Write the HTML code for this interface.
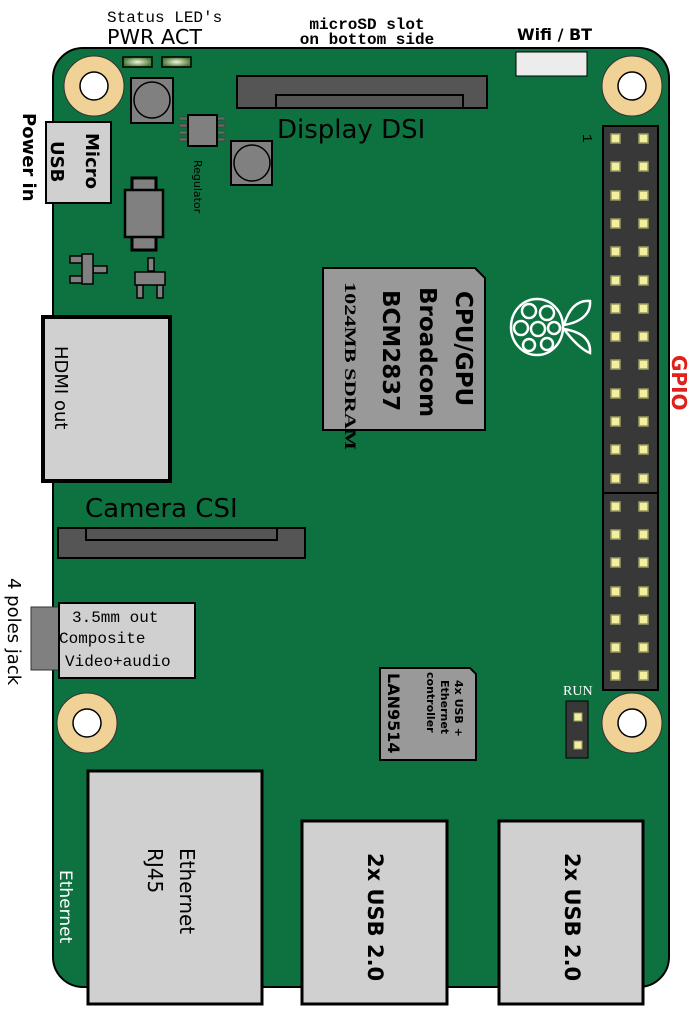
<!DOCTYPE html>
<html><head><meta charset="utf-8"><style>
html,body{margin:0;padding:0;background:#fff;}
svg{display:block;}
</style></head><body>
<svg width="697" height="1024" viewBox="0 0 697 1024" xmlns="http://www.w3.org/2000/svg" font-family="Liberation Sans, DejaVu Sans, sans-serif">
<rect x="53" y="48" width="616" height="939" rx="30" ry="30" fill="#0e7140" stroke="#000" stroke-width="2"/>

<text x="107" y="22" font-family="Liberation Mono, monospace" font-size="16">Status LED's</text>
<text x="107" y="44" font-family="DejaVu Sans, sans-serif" font-size="20" textLength="95" lengthAdjust="spacingAndGlyphs">PWR ACT</text>
<text x="367" y="29" text-anchor="middle" font-family="Liberation Mono, monospace" font-size="16" font-weight="bold">microSD slot</text>
<text x="367" y="44" text-anchor="middle" font-family="Liberation Mono, monospace" font-size="16" font-weight="bold">on bottom side</text>
<text x="517" y="40" font-size="16" font-weight="bold" font-family="DejaVu Sans, sans-serif">Wifi / BT</text>

<defs>
<radialGradient id="led" cx="0.5" cy="0.5" r="0.5"><stop offset="0" stop-color="#f4f6dc"/><stop offset="1" stop-color="#4a7a3a"/></radialGradient>
</defs>
<rect x="123" y="57" width="29" height="10" fill="url(#led)" stroke="#000" stroke-width="1.5"/>
<rect x="162" y="57" width="29" height="10" fill="url(#led)" stroke="#000" stroke-width="1.5"/>

<rect x="516" y="52" width="71" height="24" fill="#ececec" stroke="#000" stroke-width="1"/>

<g fill="#f0d296" stroke="#333" stroke-width="1">
<circle cx="94" cy="86" r="30"/><circle cx="632" cy="86" r="30"/>
<circle cx="87" cy="723" r="30"/><circle cx="632" cy="723" r="30"/>
</g>
<g fill="#fff" stroke="#000" stroke-width="1.5">
<circle cx="94" cy="86" r="14"/><circle cx="632" cy="86" r="14"/>
<circle cx="87" cy="723" r="14"/><circle cx="632" cy="723" r="14"/>
</g>

<rect x="131" y="78" width="42" height="45" fill="#808080" stroke="#000" stroke-width="2"/>
<circle cx="152" cy="100" r="18" fill="#808080" stroke="#000" stroke-width="1.5"/>
<rect x="231" y="141" width="41" height="44" fill="#808080" stroke="#000" stroke-width="2"/>
<circle cx="252" cy="163" r="18" fill="#808080" stroke="#000" stroke-width="1.5"/>

<g fill="#666" stroke="#333" stroke-width="0.5">
<rect x="179" y="117" width="9" height="3"/><rect x="179" y="124" width="9" height="3"/><rect x="179" y="131" width="9" height="3"/><rect x="179" y="138" width="9" height="3"/>
<rect x="216" y="117" width="9" height="3"/><rect x="216" y="124" width="9" height="3"/><rect x="216" y="131" width="9" height="3"/><rect x="216" y="138" width="9" height="3"/>
</g>
<rect x="188" y="115" width="29" height="31" fill="#808080" stroke="#000" stroke-width="2"/>
<text transform="translate(194,160) rotate(90)" font-size="11" font-family="DejaVu Sans, sans-serif">Regulator</text>

<rect x="132" y="178" width="24" height="72" fill="#808080" stroke="#000" stroke-width="3"/>
<rect x="125" y="190" width="38" height="47" fill="#808080" stroke="#000" stroke-width="2.5"/>

<g fill="#808080" stroke="#000" stroke-width="1.5">
<rect x="70" y="256" width="14" height="7"/><rect x="70" y="276" width="14" height="7"/><rect x="93" y="266" width="14" height="7"/>
<rect x="82" y="254" width="11" height="30"/>
<rect x="148" y="258" width="6" height="13"/>
<rect x="137" y="285" width="6" height="13"/><rect x="157" y="285" width="6" height="13"/>
<rect x="135" y="272" width="30" height="13"/>
</g>

<rect x="46" y="122" width="65" height="81" fill="#d0d0d0" stroke="#000" stroke-width="2"/>
<text transform="translate(86,133) rotate(90)" font-size="18" font-weight="bold" font-family="DejaVu Sans, sans-serif">Micro</text>
<text transform="translate(51,141) rotate(90)" font-size="18" font-weight="bold" font-family="DejaVu Sans, sans-serif">USB</text>
<text transform="translate(23,113) rotate(90)" font-size="18" font-weight="bold" font-family="DejaVu Sans, sans-serif">Power in</text>

<rect x="237" y="76" width="250" height="32" fill="#555" stroke="#000" stroke-width="2"/>
<rect x="276" y="95" width="187" height="13" fill="#555" stroke="#000" stroke-width="2"/>
<text x="277" y="138" font-size="26" font-family="DejaVu Sans, sans-serif">Display DSI</text>

<text transform="translate(583,134) rotate(90)" font-size="14" font-family="Liberation Mono, monospace">1</text>

<rect x="603" y="126" width="55" height="367" fill="#383838" stroke="#000" stroke-width="2"/>
<rect x="603" y="493" width="55" height="197" fill="#383838" stroke="#000" stroke-width="2"/>
<g fill="#f2f0a0" stroke="#9a9a60" stroke-width="1.5">
<rect x="611" y="134" width="9" height="9"/><rect x="639" y="134" width="9" height="9"/>
<rect x="611" y="162" width="9" height="9"/><rect x="639" y="162" width="9" height="9"/>
<rect x="611" y="191" width="9" height="9"/><rect x="639" y="191" width="9" height="9"/>
<rect x="611" y="219" width="9" height="9"/><rect x="639" y="219" width="9" height="9"/>
<rect x="611" y="247" width="9" height="9"/><rect x="639" y="247" width="9" height="9"/>
<rect x="611" y="276" width="9" height="9"/><rect x="639" y="276" width="9" height="9"/>
<rect x="611" y="304" width="9" height="9"/><rect x="639" y="304" width="9" height="9"/>
<rect x="611" y="332" width="9" height="9"/><rect x="639" y="332" width="9" height="9"/>
<rect x="611" y="360" width="9" height="9"/><rect x="639" y="360" width="9" height="9"/>
<rect x="611" y="389" width="9" height="9"/><rect x="639" y="389" width="9" height="9"/>
<rect x="611" y="417" width="9" height="9"/><rect x="639" y="417" width="9" height="9"/>
<rect x="611" y="445" width="9" height="9"/><rect x="639" y="445" width="9" height="9"/>
<rect x="611" y="474" width="9" height="9"/><rect x="639" y="474" width="9" height="9"/>
<rect x="611" y="502" width="9" height="9"/><rect x="639" y="502" width="9" height="9"/>
<rect x="611" y="530" width="9" height="9"/><rect x="639" y="530" width="9" height="9"/>
<rect x="611" y="558" width="9" height="9"/><rect x="639" y="558" width="9" height="9"/>
<rect x="611" y="587" width="9" height="9"/><rect x="639" y="587" width="9" height="9"/>
<rect x="611" y="615" width="9" height="9"/><rect x="639" y="615" width="9" height="9"/>
<rect x="611" y="643" width="9" height="9"/><rect x="639" y="643" width="9" height="9"/>
<rect x="611" y="671" width="9" height="9"/><rect x="639" y="671" width="9" height="9"/>
</g>
<text transform="translate(672,355) rotate(90)" font-size="20" font-weight="bold" fill="#e0201a" font-family="DejaVu Sans, sans-serif">GPIO</text>

<path d="M323 268 L475 268 L485 278 L485 430 L323 430 Z" fill="#999" stroke="#000" stroke-width="2"/>
<text transform="translate(456,291) rotate(90)" font-size="23" font-weight="bold" font-family="DejaVu Sans, sans-serif">CPU/GPU</text>
<text transform="translate(420,287) rotate(90)" font-size="23" font-weight="bold" font-family="DejaVu Sans, sans-serif">Broadcom</text>
<text transform="translate(383,290) rotate(90)" font-size="23" font-weight="bold" font-family="DejaVu Sans, sans-serif">BCM2837</text>
<text transform="translate(345,282) rotate(90)" font-size="16" font-weight="bold" font-family="Liberation Serif, DejaVu Serif, serif" textLength="168" lengthAdjust="spacingAndGlyphs">1024MB SDRAM</text>

<g fill="none" stroke="#fff" stroke-width="2.5">
<ellipse cx="537" cy="327" rx="26" ry="28"/>
<circle cx="529" cy="311" r="7"/><circle cx="547" cy="313" r="7"/>
<circle cx="521" cy="328" r="7"/><circle cx="538" cy="329" r="7"/><circle cx="554" cy="328" r="6"/>
<circle cx="529" cy="345" r="6"/><circle cx="547" cy="344" r="6"/>
<path d="M564 325 C570 305 580 300 590 301 C591 313 582 322 564 325 Z"/>
<path d="M564 329 C572 340 582 350 590 353 C591 340 582 332 564 329 Z"/>
</g>

<rect x="43" y="317" width="127" height="164" fill="#d0d0d0" stroke="#000" stroke-width="4"/>
<text transform="translate(55,346) rotate(90)" font-size="18" font-family="DejaVu Sans, sans-serif">HDMI out</text>

<text x="85" y="517" font-size="26" font-family="DejaVu Sans, sans-serif">Camera CSI</text>
<rect x="58" y="528" width="247" height="30" fill="#555" stroke="#000" stroke-width="2"/>
<rect x="86" y="528" width="191" height="12" fill="#555" stroke="#000" stroke-width="2"/>

<rect x="31" y="607" width="29" height="63" fill="#808080" stroke="#333" stroke-width="1"/>
<rect x="59" y="603" width="136" height="75" fill="#d0d0d0" stroke="#000" stroke-width="2"/>
<text x="72" y="622" font-family="Liberation Mono, monospace" font-size="16">3.5mm out</text>
<text x="59" y="643" font-family="Liberation Mono, monospace" font-size="16">Composite</text>
<text x="65" y="666" font-family="Liberation Mono, monospace" font-size="16">Video+audio</text>
<text transform="translate(8,578) rotate(90)" font-size="18" font-family="DejaVu Sans, sans-serif">4 poles jack</text>

<path d="M380 668 L470 668 L476 674 L476 760 L380 760 Z" fill="#999" stroke="#000" stroke-width="2"/>
<text transform="translate(388,673) rotate(90)" font-size="16" font-weight="bold" font-family="DejaVu Sans, sans-serif">LAN9514</text>
<text transform="translate(455,680) rotate(90)" font-size="11" font-weight="bold" font-family="DejaVu Sans, sans-serif">4x USB +</text>
<text transform="translate(441,680) rotate(90)" font-size="11" font-weight="bold" font-family="DejaVu Sans, sans-serif">Ethernet</text>
<text transform="translate(427,672) rotate(90)" font-size="11" font-weight="bold" font-family="DejaVu Sans, sans-serif">controller</text>

<text x="563" y="695" font-family="Liberation Serif, serif" font-size="14" fill="#fff">RUN</text>
<rect x="566" y="701" width="22" height="57" fill="#383838" stroke="#000" stroke-width="1"/>
<rect x="574" y="713" width="8" height="8" fill="#f2f0a0" stroke="#9a9a60"/>
<rect x="574" y="741" width="8" height="8" fill="#f2f0a0" stroke="#9a9a60"/>

<rect x="88" y="771" width="174" height="233" fill="#d0d0d0" stroke="#000" stroke-width="3"/>
<text transform="translate(180,848) rotate(90)" font-size="20" font-family="DejaVu Sans, sans-serif">Ethernet</text>
<text transform="translate(148,848) rotate(90)" font-size="20" font-family="DejaVu Sans, sans-serif">RJ45</text>
<text transform="translate(60,870) rotate(90)" font-size="17" fill="#fff" font-family="DejaVu Sans, sans-serif">Ethernet</text>

<rect x="302" y="821" width="145" height="183" fill="#d0d0d0" stroke="#000" stroke-width="3"/>
<text transform="translate(368,853) rotate(90)" font-size="21" font-weight="bold" font-family="DejaVu Sans, sans-serif">2x USB 2.0</text>
<rect x="499" y="821" width="144" height="183" fill="#d0d0d0" stroke="#000" stroke-width="3"/>
<text transform="translate(565,853) rotate(90)" font-size="21" font-weight="bold" font-family="DejaVu Sans, sans-serif">2x USB 2.0</text>
</svg>
</body></html>
